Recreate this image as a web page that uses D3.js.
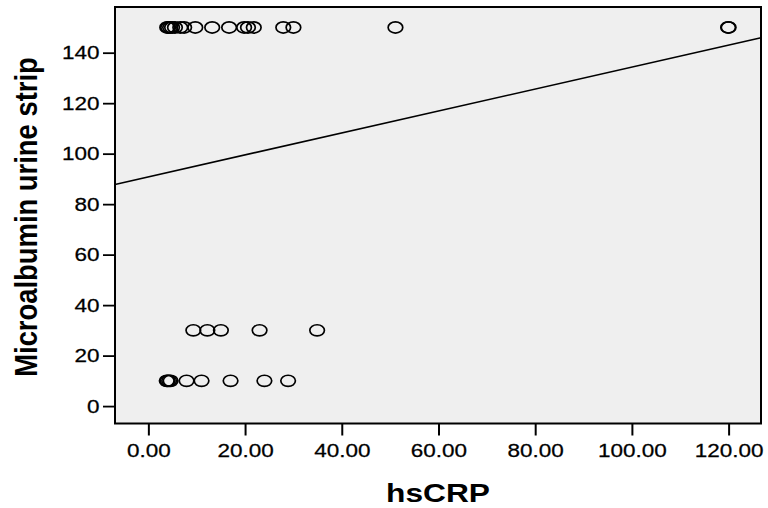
<!DOCTYPE html>
<html>
<head>
<meta charset="utf-8">
<script src="https://cdn.jsdelivr.net/npm/d3@7"></script>
<style>
  html, body { margin: 0; padding: 0; background: #fff; }
  svg { display: block; }
  text { font-family: "Liberation Sans", Arial, sans-serif; fill: #000; }
</style>
</head>
<body>
<svg id="chart" width="768" height="508"></svg>
<script>
// ---- data ----
const hsCRP_150 = [3.9, 4.1, 4.5, 4.9, 5.5, 6.6, 7.4, 9.7, 13.2, 16.7, 19.8, 20.6, 21.8, 27.9, 30.0, 51.1, 119.9, 120.0];
const hsCRP_30  = [9.3, 12.2, 15.0, 23.0, 34.9];
const hsCRP_10  = [3.8, 4.0, 4.3, 4.6, 7.9, 11.0, 17.0, 24.0, 28.9];
const albuminLevels = [150, 30, 10];
const xTicks = [0, 20, 40, 60, 80, 100, 120];
const yTicks = [0, 20, 40, 60, 80, 100, 120, 140];
const fitIntercept = 90.8;
const fitSlope = 0.435;
const xTitle = "hsCRP";
const yTitle = "Microalbumin urine strip";

const points = [];
[hsCRP_150, hsCRP_30, hsCRP_10].forEach((arr, i) => {
  arr.forEach(v => points.push({ x: v, y: albuminLevels[i] }));
});

// ---- layout ----
const svg = d3.select("#chart");
const L = 115, R = 761, T = 7, B = 423.5;
const SX = 1.25; // horizontal stretch of text in reference

const x = d3.scaleLinear().domain([-6.9, 126.7]).range([L, R]);
const y = d3.scaleLinear().domain([-6.9, 158.1]).range([B, T]);

// plot background
svg.append("rect")
  .attr("x", L).attr("y", T).attr("width", R - L).attr("height", B - T)
  .attr("fill", "#efefef");

// regression line
const xd = x.domain();
svg.append("line")
  .attr("x1", x(xd[0])).attr("y1", y(fitIntercept + fitSlope * xd[0]))
  .attr("x2", x(xd[1])).attr("y2", y(fitIntercept + fitSlope * xd[1]))
  .attr("stroke", "#000").attr("stroke-width", 1.6);

// points
svg.append("g").selectAll("ellipse").data(points).join("ellipse")
  .attr("cx", d => x(d.x)).attr("cy", d => y(d.y))
  .attr("rx", 7.3).attr("ry", 5.6)
  .attr("fill", "none").attr("stroke", "#000").attr("stroke-width", 1.7);

// frame
svg.append("rect")
  .attr("x", L).attr("y", T).attr("width", R - L).attr("height", B - T)
  .attr("fill", "none").attr("stroke", "#000").attr("stroke-width", 2);

// x axis
const gx = svg.append("g").attr("transform", `translate(0,${B})`)
  .call(d3.axisBottom(x).tickValues(xTicks).tickSize(12).tickSizeOuter(0)
    .tickFormat(d => d3.format(".2f")(d)));
gx.select(".domain").remove();
gx.selectAll(".tick line").attr("stroke", "#000").attr("stroke-width", 2);
gx.selectAll(".tick text")
  .attr("y", 33.5).attr("dy", 0)
  .attr("transform", `scale(${SX},1)`)
  .style("font-size", "18px").attr("fill", "#000")
  .attr("stroke", "#000").attr("stroke-width", 0.25);

// y axis
const gy = svg.append("g").attr("transform", `translate(${L},0)`)
  .call(d3.axisLeft(y).tickValues(yTicks).tickSize(12).tickSizeOuter(0)
    .tickFormat(d3.format("d")));
gy.select(".domain").remove();
gy.selectAll(".tick line").attr("stroke", "#000").attr("stroke-width", 1.8);
gy.selectAll(".tick text")
  .attr("x", -15.5 / SX).attr("dy", "0.35em")
  .attr("transform", `scale(${SX},1)`)
  .style("font-size", "18px").attr("fill", "#000")
  .attr("stroke", "#000").attr("stroke-width", 0.25);

// axis titles
svg.append("text")
  .attr("transform", `translate(${(L + R) / 2},502) scale(1.22,1)`)
  .attr("text-anchor", "middle")
  .style("font-size", "26px").style("font-weight", "bold")
  .text(xTitle);

svg.append("text")
  .attr("transform", `translate(36.5,217) scale(1.12,1) rotate(-90)`)
  .attr("text-anchor", "middle")
  .style("font-size", "27.4px").style("font-weight", "bold")
  .text(yTitle);
</script>
</body>
</html>
